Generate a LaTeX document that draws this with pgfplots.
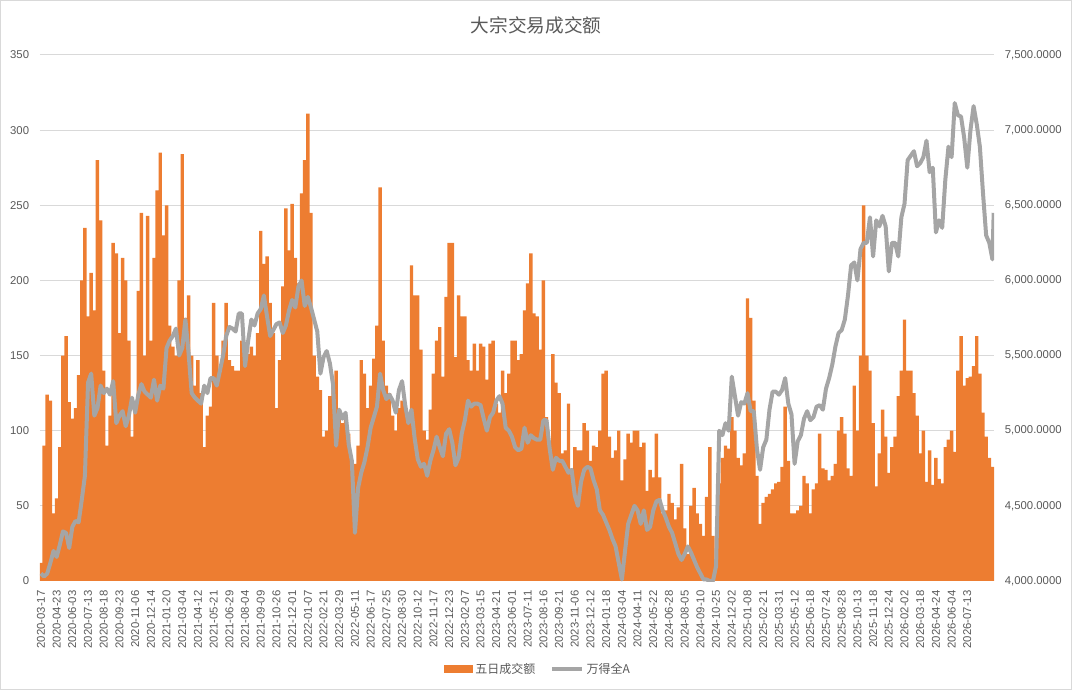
\documentclass[border=0pt]{standalone}
\usepackage{pgfplots}
\pgfplotsset{compat=1.18}
\usepackage{pgfplotstable}
\usepackage{fontspec}
\setmainfont{Liberation Sans}
\newfontfamily\cjk{Noto Sans CJK SC}
\definecolor{barorange}{HTML}{ED7D31}
\definecolor{linegray}{HTML}{A5A5A5}
\definecolor{txt}{HTML}{595959}
\definecolor{gridc}{HTML}{D9D9D9}

\pgfplotstableread{
i b l
0 12 4050
5 90 4030
10 124 4050
15 120 4120
20 45 4200
25 55 4160
30 89 4240
35 150 4330
40 163 4320
45 119 4220
50 108 4360
55 115 4400
60 137 4390
65 200 4540
70 235 4700
75 176 5320
80 205 5380
85 180 5100
90 280 5150
95 240 5300
100 140 5250
105 90 5280
110 110 5240
115 225 5330
120 218 5050
125 165 5100
130 215 5130
135 200 5030
140 160 5100
145 96 5220
150 117 5120
155 193 5240
160 245 5310
165 150 5260
170 243 5240
175 160 5220
180 215 5340
185 260 5200
190 285 5300
195 230 5280
200 250 5550
205 170 5600
210 156 5630
215 150 5680
220 200 5500
225 284 5550
230 175 5740
235 190 5520
240 150 5250
245 130 5220
250 147 5200
255 125 5180
260 89 5300
265 110 5250
270 116 5350
275 185 5350
280 150 5300
285 139 5400
290 160 5500
295 185 5630
300 147 5690
305 143 5680
310 140 5660
315 140 5780
320 160 5780
325 145 5430
330 151 5600
335 156 5740
340 150 5700
345 165 5780
350 233 5810
355 211 5900
360 216 5760
365 185 5630
370 165 5670
375 115 5710
380 147 5720
385 196 5650
390 248 5700
395 220 5800
400 251 5870
405 215 5820
410 198 5960
415 258 6000
420 280 5830
425 311 5890
430 245 5820
435 150 5740
440 136 5660
445 127 5380
450 96 5490
455 100 5530
460 123 5450
465 130 5310
470 140 4900
475 110 5140
480 105 5080
485 107 5120
490 98 4910
495 76 4800
500 78 4320
505 90 4620
510 147 4720
515 138 4790
520 115 4890
525 130 5020
530 148 5090
535 170 5160
540 262 5380
545 160 5270
550 130 5210
555 125 5240
560 110 5200
565 100 5120
570 115 5270
575 120 5330
580 116 5170
585 112 5050
590 210 5140
595 190 4950
600 190 4810
605 154 4760
610 100 4780
615 94 4700
620 114 4800
625 138 4870
630 160 4960
635 169 4890
640 136 4830
645 189 4980
650 225 5010
655 225 4920
660 149 4770
665 190 4820
670 176 4980
675 176 5070
680 147 5200
685 140 5160
690 158 5180
695 140 5180
700 158 5170
705 156 5080
710 134 5000
715 158 5090
720 160 5120
725 118 5200
730 112 5230
735 140 5180
740 125 5020
745 138 5000
750 160 4960
755 160 4890
760 147 4870
765 151 4880
770 180 5020
775 198 4920
780 218 4970
785 178 4950
790 176 4940
795 154 4940
800 200 5070
805 109 5070
810 89 4880
815 151 4740
820 132 4820
825 125 4800
830 85 4800
835 87 4760
840 118 4720
845 74 4740
850 89 4570
855 87 4500
860 87 4660
865 105 4740
870 100 4760
875 80 4750
880 90 4670
885 89 4610
890 100 4470
895 138 4440
900 140 4390
905 96 4340
910 82 4280
915 87 4230
920 100 4120
925 67 4010
930 81 4200
935 98 4380
940 92 4440
945 100 4500
950 100 4470
955 89 4380
960 92 4470
965 60 4340
970 74 4360
975 69 4470
980 98 4530
985 69 4540
990 45 4470
995 47 4420
1000 58 4360
1005 52 4320
1010 41 4250
1015 49 4180
1020 78 4140
1025 35 4180
1030 18 4230
1035 50 4190
1040 62 4140
1045 45 4090
1050 38 4050
1055 30 4010
1060 56 4010
1065 89 4000
1070 30 4000
1075 14 4100
1080 65 5000
1085 82 4970
1090 90 5050
1095 88 5000
1100 109 5360
1105 100 5230
1110 82 5100
1115 77 5190
1120 85 5180
1125 188 5250
1130 175 5130
1135 120 5130
1140 70 4880
1145 38 4740
1150 52 4890
1155 56 4940
1160 58 5140
1165 61 5260
1170 65 5260
1175 66 5240
1180 76 5270
1185 116 5350
1190 80 5180
1195 45 5110
1200 45 4780
1205 47 4930
1210 50 4970
1215 70 5080
1220 65 5130
1225 45 5070
1230 61 5090
1235 65 5160
1240 98 5170
1245 75 5140
1250 74 5280
1255 67 5350
1260 70 5440
1265 78 5560
1270 100 5650
1275 109 5670
1280 98 5740
1285 75 5900
1290 70 6100
1295 130 6120
1300 100 6000
1305 150 6210
1310 250 6250
1315 150 6250
1320 140 6420
1325 105 6160
1330 63 6400
1335 85 6360
1340 114 6430
1345 96 6360
1350 72 6060
1355 89 6250
1360 96 6250
1365 123 6160
1370 140 6420
1375 174 6510
1380 140 6800
1385 140 6830
1390 125 6860
1395 110 6760
1400 85 6780
1405 100 6820
1410 66 6930
1415 87 6720
1420 64 6750
1425 82 6320
1430 68 6400
1435 65 6350
1440 89 6670
1445 94 6890
1450 100 6820
1455 86 7180
1460 140 7100
1465 163 7090
1470 130 6950
1475 135 6750
1480 136 7000
1485 143 7160
1490 163 7040
1495 138 6890
1500 112 6580
1505 96 6300
1510 82 6250
1515 76 6140
1517 nan 6450
}\data

\begin{document}
\begin{tikzpicture}
\draw[draw=gridc, line width=0.75pt] (0.375pt,0.375pt) rectangle (803.625pt,517.125pt);
\node[font=\cjk\fontsize{14}{16}\selectfont, text=txt] at (402pt,498.75pt) {大宗交易成交额};

\begin{axis}[
  scale only axis, width=715.5pt, height=394.5pt,
  at={(30pt,81.75pt)}, anchor=south west,
  xmin=-1.5, xmax=1517.5, ymin=0, ymax=350,
  ytick={0,50,...,350},
  xtick={0,25,...,1475},
  xticklabels={2020-03-17,2020-04-23,2020-06-03,2020-07-13,2020-08-18,2020-09-23,2020-11-06,2020-12-14,2021-01-20,2021-03-04,2021-04-12,2021-05-21,2021-06-29,2021-08-04,2021-09-09,2021-10-26,2021-12-01,2022-01-07,2022-02-21,2022-03-29,2022-05-11,2022-06-17,2022-07-25,2022-08-30,2022-10-12,2022-11-17,2022-12-23,2023-02-07,2023-03-15,2023-04-21,2023-06-01,2023-07-11,2023-08-16,2023-09-21,2023-11-06,2023-12-12,2024-01-18,2024-03-04,2024-04-11,2024-05-22,2024-06-28,2024-08-05,2024-09-10,2024-10-25,2024-12-02,2025-01-08,2025-02-21,2025-03-31,2025-05-12,2025-06-18,2025-07-24,2025-08-28,2025-10-13,2025-11-18,2025-12-24,2026-02-02,2026-03-18,2026-04-24,2026-06-04,2026-07-13},
  axis line style={draw=none},
  major tick length=0pt,
  ymajorgrids, grid style={draw=gridc, line width=0.75pt},
  tick label style={font=\fontsize{8.5}{10}\selectfont, text=txt},
  xticklabel style={rotate=90, anchor=east, inner sep=0pt, xshift=-7pt},
  yticklabel style={anchor=east, inner sep=0pt, xshift=-8pt},
  /pgf/number format/assume math mode=true,
]
\addplot[ybar, bar width=5.5, fill=barorange, draw=none] table[x=i,y=b]{\data};
\end{axis}

\begin{axis}[
  scale only axis, width=715.5pt, height=394.5pt,
  at={(30pt,81.75pt)}, anchor=south west,
  xmin=-1.5, xmax=1517.5, ymin=4000, ymax=7500,
  ytick={4000,4500,...,7500},
  hide x axis, axis y line*=right, axis line style={draw=none},
  major tick length=0pt,
  tick label style={font=\fontsize{8.5}{10}\selectfont, text=txt},
  yticklabel style={anchor=west, inner sep=0pt, xshift=8pt,
    /pgf/number format/.cd, fixed, fixed zerofill, precision=4, 1000 sep={,}},
  /pgf/number format/assume math mode=true,
  legend style={at={(0.5224,-0.1673)}, anchor=center, draw=none, fill=none,
    legend columns=2, font=\cjk\fontsize{9}{11}\selectfont, text=txt,
    /tikz/every even column/.append style={column sep=9pt}},
]
\addlegendimage{legend image code/.code={\fill[barorange] (0pt,-2.6pt) rectangle (21pt,2.6pt);}}
\addlegendentry{五日成交额}
\addplot[linegray, line width=3pt, line join=round,
  legend image code/.code={\draw[linegray, line width=3pt] (0pt,0pt) -- (22.5pt,0pt);}]
  table[x=i,y=l]{\data};
\addlegendentry{万得全A}
\end{axis}
\end{tikzpicture}
\end{document}
